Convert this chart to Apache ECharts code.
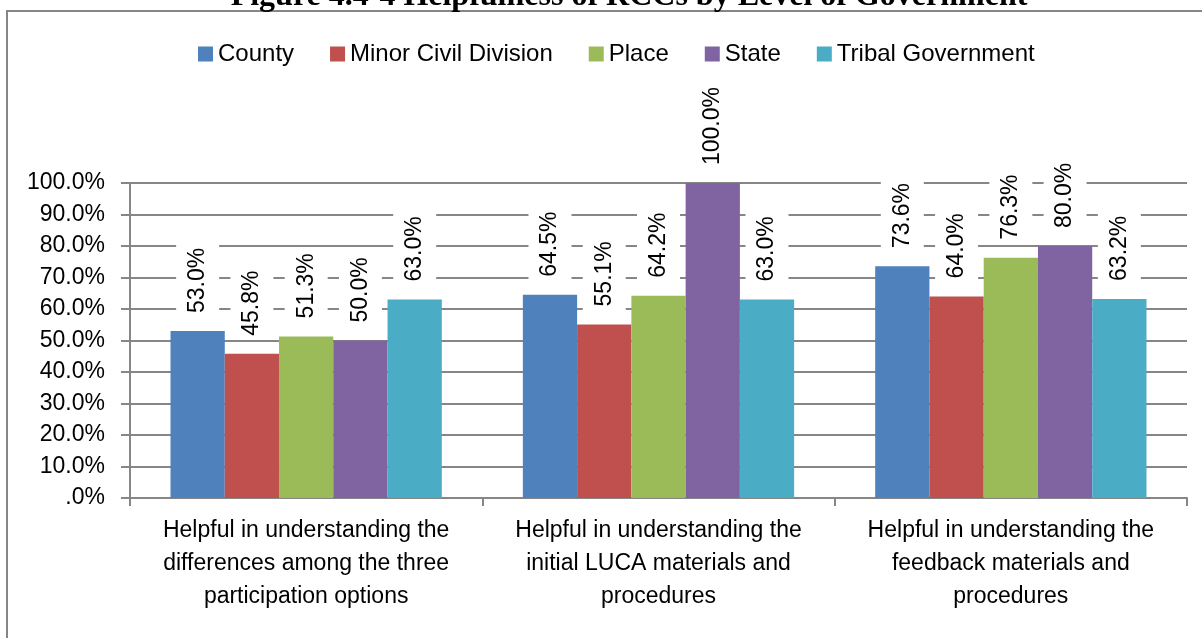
<!DOCTYPE html>
<html>
<head>
<meta charset="utf-8">
<script src="https://cdn.jsdelivr.net/npm/echarts@6/dist/echarts.min.js"></script>
<style>
  html, body { margin: 0; padding: 0; background: #fff; }
  #container { width: 1202px; height: 638px; }
</style>
</head>
<body>
<div id="container"></div>
<script>
// chart data
var categories = [
    'Helpful in understanding the\ndifferences among the three\nparticipation options',
    'Helpful in understanding the\ninitial LUCA materials and\nprocedures',
    'Helpful in understanding the\nfeedback materials and\nprocedures'
];
var seriesNames = ['County', 'Minor Civil Division', 'Place', 'State', 'Tribal Government'];
var county = [53.0, 64.5, 73.6];
var minorCivil = [45.8, 55.1, 64.0];
var place = [51.3, 64.2, 76.3];
var state = [50.0, 100.0, 80.0];
var tribal = [63.0, 63.0, 63.2];
var colors = ['#4F81BD', '#C0504D', '#9BBB59', '#8064A2', '#4BACC6'];

var font = 'Liberation Sans';
var gray = '#868686';

var allData = [county, minorCivil, place, state, tribal];
var series = [];
for (var i = 0; i < allData.length; i++) {
    series.push({
        name: seriesNames[i],
        type: 'bar',
        data: allData[i],
        barGap: '0%',
        barCategoryGap: '23%',
        itemStyle: { color: colors[i] },
        label: {
            show: true,
            position: 'top',
            rotate: 90,
            align: 'left',
            verticalAlign: 'middle',
            distance: 14,
            fontFamily: font,
            fontSize: 23,
            color: '#000',
            backgroundColor: '#fff',
            padding: [10, 4],
            formatter: function (p) { return p.value.toFixed(1) + '%'; }
        }
    });
}

var dom = document.getElementById('container');
var myChart = echarts.init(dom);
var option = {
    animation: false,
    backgroundColor: '#fff',
    graphic: [
        {
            type: 'rect',
            shape: { x: 7, y: 11, width: 1400, height: 800 },
            style: { fill: 'none', stroke: gray, lineWidth: 2 },
            z: -10
        },
        {
            type: 'text',
            x: 629,
            y: -3,
            style: {
                text: 'Figure 4.4-4 Helpfulness of RCCs by Level of Government',
                font: 'bold 32px "Liberation Serif"',
                fill: '#000',
                textAlign: 'center',
                textVerticalAlign: 'middle'
            }
        }
    ],
    legend: {
        data: seriesNames,
        left: 193,
        top: 37,
        itemWidth: 15,
        itemHeight: 15,
        itemGap: 36,
        icon: 'rect',
        textStyle: { fontFamily: font, fontSize: 24, color: '#000' }
    },
    grid: { left: 130, right: 15, top: 183, bottom: 140 },
    xAxis: {
        type: 'category',
        data: categories,
        axisLine: { lineStyle: { color: gray, width: 2 } },
        axisTick: { show: true, length: 8, lineStyle: { color: gray, width: 2 } },
        axisLabel: {
            interval: 0,
            margin: 16,
            fontFamily: font,
            fontSize: 23,
            lineHeight: 33,
            color: '#000'
        }
    },
    yAxis: {
        type: 'value',
        min: 0,
        max: 100,
        interval: 10,
        axisLine: { show: true, lineStyle: { color: gray, width: 2 } },
        axisTick: { show: true, inside: false, length: 9, lineStyle: { color: gray, width: 2 } },
        splitLine: { show: true, lineStyle: { color: gray, width: 2 } },
        axisLabel: {
            margin: 25,
            fontFamily: font,
            fontSize: 23,
            color: '#000',
            formatter: function (v) { return v === 0 ? '.0%' : v.toFixed(1) + '%'; }
        }
    },
    series: series
};
myChart.setOption(option, true);
</script>
</body>
</html>
